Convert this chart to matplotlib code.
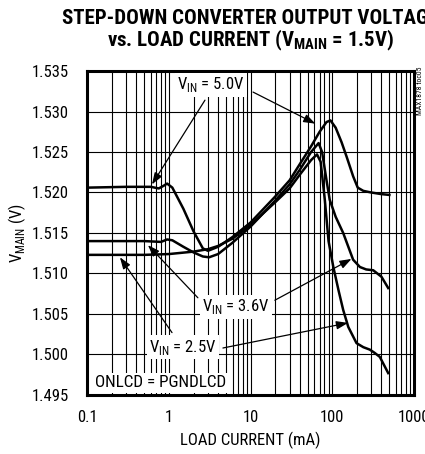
"""
Step-down converter output voltage vs. load current
"""
import numpy as np
import matplotlib
matplotlib.use('Agg')
import matplotlib.pyplot as plt
from matplotlib.ticker import LogLocator, FixedLocator, NullFormatter

NARROW = ['Roboto Condensed', 'Liberation Sans Narrow', 'Roboto', 'DejaVu Sans']
plt.rcParams['font.family'] = NARROW
plt.rcParams['mathtext.fontset'] = 'custom'
plt.rcParams['mathtext.rm'] = 'Roboto Condensed'
plt.rcParams['mathtext.bf'] = 'Roboto Condensed:bold'

# ── data (load current mA, VMAIN V) ───────────────────────────
i_50 = [0.1, 0.3, 0.6, 0.75, 0.85, 0.95, 1.1, 1.5, 2.0, 2.6, 3.0, 4, 6, 10, 20, 30,
        40, 55, 70, 85, 95, 110, 130, 150, 180, 205, 240, 300, 400, 500]
v_50 = [1.5206, 1.5207, 1.5207, 1.5205, 1.5208, 1.5211, 1.5206, 1.5180, 1.5152,
        1.5131, 1.5128, 1.5133, 1.5145, 1.5163, 1.5195, 1.5215, 1.5235, 1.5257,
        1.5275, 1.5287, 1.5289, 1.5280, 1.5262, 1.5244, 1.5220, 1.5206, 1.5202,
        1.5200, 1.5198, 1.5197]

i_36 = [0.1, 0.5, 0.8, 0.95, 1.1, 1.5, 2.0, 2.6, 3.1, 4, 6, 10, 20, 30, 40, 55, 68,
        75, 85, 93, 110, 136, 180, 218, 260, 317, 400, 484]
v_36 = [1.5140, 1.5140, 1.5139, 1.5142, 1.5141, 1.5133, 1.5126, 1.5121, 1.5120,
        1.5124, 1.5138, 1.5158, 1.5190, 1.5210, 1.5228, 1.5250, 1.5261, 1.5250,
        1.5215, 1.5191, 1.5170, 1.5150, 1.5117, 1.5108, 1.5105, 1.5104, 1.5096,
        1.5082]

i_25 = [0.1, 0.5, 1, 2, 3, 4, 6, 10, 20, 30, 40, 55, 65, 72, 81, 90, 103, 120, 136,
        157, 198, 240, 288, 330, 382, 484]
v_25 = [1.5123, 1.5123, 1.5124, 1.5127, 1.5130, 1.5134, 1.5143, 1.5160, 1.5188,
        1.5205, 1.5222, 1.5240, 1.5247, 1.5238, 1.5191, 1.5140, 1.5108, 1.5078,
        1.5055, 1.5034, 1.5014, 1.5009, 1.5006, 1.5002, 1.4997, 1.4977]

y_ticks = [1.495, 1.500, 1.505, 1.510, 1.515, 1.520, 1.525, 1.530, 1.535]
x_ticks = [0.1, 1, 10, 100, 1000]
x_labels = ['0.1', '1', '10', '100', '1000']

# ── figure ────────────────────────────────────────────────────
fig = plt.figure(figsize=(4.25, 4.54), dpi=100)
ax = fig.add_axes([0.2054, 0.130, 0.7686, 0.7136])

for i_, v_ in [(i_50, v_50), (i_36, v_36), (i_25, v_25)]:
    ax.plot(i_, v_, color='black', lw=1.8, solid_joinstyle='round', zorder=3)

ax.set_xscale('log')
ax.set_xlim(0.1, 1000)
ax.set_ylim(1.495, 1.535)
ax.xaxis.set_major_locator(FixedLocator(x_ticks))
ax.set_xticklabels(x_labels)
ax.xaxis.set_minor_locator(LogLocator(base=10, subs=np.arange(2, 10)))
ax.xaxis.set_minor_formatter(NullFormatter())
ax.set_yticks(y_ticks)
ax.set_yticklabels([f'{t:.3f}' for t in y_ticks])
ax.tick_params(which='both', length=0, labelsize=12)
ax.tick_params(axis='y', pad=13)
ax.tick_params(axis='x', pad=11)
ax.grid(which='both', axis='x', color='black', lw=0.8)
ax.grid(which='major', axis='y', color='black', lw=0.8)
for s in ax.spines.values():
    s.set_linewidth(2.2)

ax.set_xlabel('LOAD CURRENT (mA)', fontsize=12, labelpad=5)
ax.set_ylabel(r'V$_{\mathrm{MAIN}}$ (V)', fontsize=12, labelpad=3)

fig.text(0.589, 0.960, 'STEP-DOWN CONVERTER OUTPUT VOLTAGE', ha='center', va='center',
         fontsize=15, fontweight='black')
fig.text(0.589, 0.911, r'vs. LOAD CURRENT (V$_{\mathbf{MAIN}}$ = 1.5V)', ha='center',
         va='center', fontsize=15, fontweight='black')
fig.text(0.988, 0.853, 'MAX1878 toc05', rotation=90, ha='center', va='top', fontsize=5.5)

# ── annotations ───────────────────────────────────────────────
box = dict(boxstyle='square,pad=0.15', facecolor='white', edgecolor='none')
arrow = dict(arrowstyle='-|>,head_length=0.7,head_width=0.25', color='black', lw=0.9,
             shrinkA=0, shrinkB=0)

ax.text(3.27, 1.5333, r'V$_{\mathrm{IN}}$ = 5.0V', ha='center', va='center',
        fontsize=12, bbox=box, zorder=5)
ax.annotate('', xy=(0.62, 1.5210), xytext=(2.76, 1.5314), arrowprops=arrow, zorder=4)
ax.annotate('', xy=(62, 1.5285), xytext=(10.7, 1.5324), arrowprops=arrow, zorder=4)

ax.text(6.61, 1.5059, r'V$_{\mathrm{IN}}$ = 3.6V', ha='center', va='center',
        fontsize=12, bbox=box, zorder=5)
ax.annotate('', xy=(0.553, 1.5135), xytext=(2.26, 1.5070), arrowprops=arrow, zorder=4)
ax.annotate('', xy=(172, 1.5118), xytext=(19.8, 1.5067), arrowprops=arrow, zorder=4)

ax.text(1.48, 1.5009, r'V$_{\mathrm{IN}}$ = 2.5V', ha='center', va='center',
        fontsize=12, bbox=box, zorder=5)
ax.annotate('', xy=(0.251, 1.5120), xytext=(1.09, 1.5027), arrowprops=arrow, zorder=4)
ax.annotate('', xy=(156, 1.5039), xytext=(4.58, 1.5008), arrowprops=arrow, zorder=4)

ax.text(0.80, 1.4965, 'ONLCD = PGNDLCD', ha='center', va='center', fontsize=12.3,
        bbox=box, zorder=5)

plt.savefig('out.png', dpi=100)
plt.close()
